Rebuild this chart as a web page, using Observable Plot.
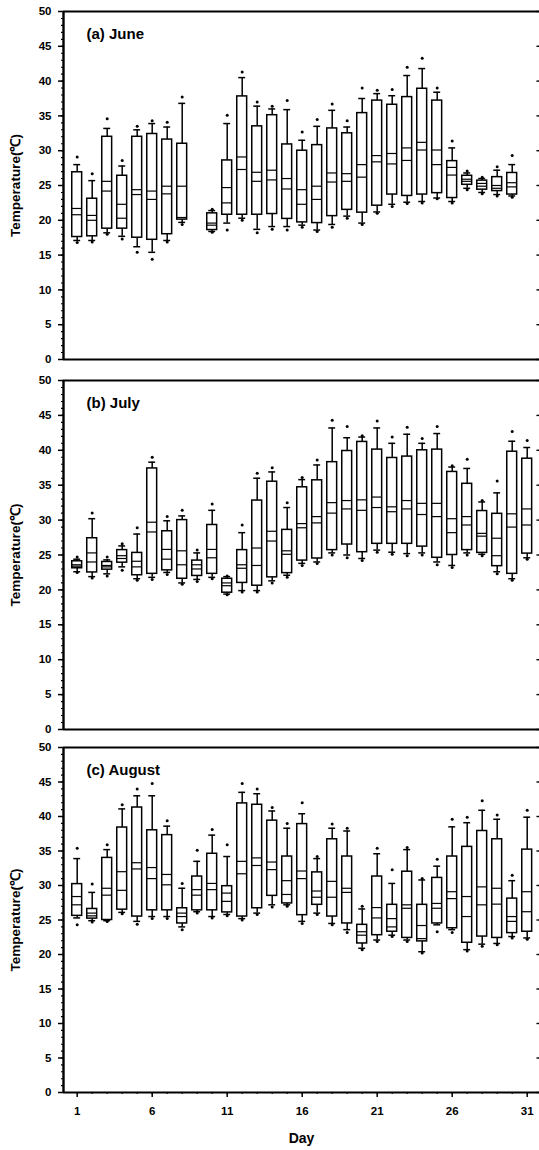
<!DOCTYPE html>
<html>
<head>
<meta charset="utf-8">
<script src="https://cdn.jsdelivr.net/npm/d3@7"></script>
<script src="https://cdn.jsdelivr.net/npm/@observablehq/plot@0.6"></script>
<style>
  html, body { margin: 0; padding: 0; background: #fff; overflow: hidden; }
  #chart svg { display: block; }
  g[aria-label="panel-title"] text { letter-spacing: 1.6px; }
  g[aria-label="y-title"] text { letter-spacing: 1.6px; }
  g[aria-label="x-title"] text { letter-spacing: 1px; }
</style>
</head>
<body>
<div id="chart"></div>
<script>
// Daily air temperature distributions (°C): 5th/95th percentile points,
// 10th/90th whiskers, quartile boxes, median and mean lines.

// ---- June (no record on day 9) ----
const juneDays  = [1, 2, 3, 4, 5, 6, 7, 8, 10, 11, 12, 13, 14, 15, 16, 17, 18, 19, 20, 21, 22, 23, 24, 25, 26, 27, 28, 29, 30];
const juneP5    = [16.8, 16.9, 18.0, 17.3, 15.4, 14.4, 16.9, 19.4, 18.3, 18.6, 20.0, 18.2, 18.7, 18.6, 19.0, 18.4, 19.0, 20.3, 19.4, 21.0, 22.0, 22.4, 22.5, 23.1, 22.5, 24.4, 23.8, 23.5, 23.3];
const juneP10   = [17.1, 17.1, 18.2, 17.7, 16.2, 15.4, 17.1, 19.7, 18.4, 19.6, 20.3, 18.7, 19.1, 19.1, 19.3, 18.6, 19.4, 20.6, 19.6, 21.2, 22.3, 22.6, 22.7, 23.2, 22.7, 24.6, 24.0, 23.7, 23.5];
const juneQ1    = [17.6, 17.7, 18.8, 18.8, 17.5, 17.2, 18.0, 20.1, 18.6, 20.8, 20.8, 20.8, 20.9, 20.2, 19.7, 19.6, 20.6, 21.5, 21.1, 22.1, 23.7, 23.5, 23.7, 23.9, 23.2, 25.1, 24.4, 24.2, 23.7];
const juneMed   = [20.8, 20.0, 24.2, 20.3, 23.7, 23.0, 23.8, 20.4, 19.3, 22.5, 27.3, 25.6, 25.8, 24.5, 22.3, 23.0, 25.5, 25.6, 26.2, 28.4, 28.1, 28.6, 30.1, 28.0, 26.5, 25.6, 24.9, 24.6, 24.8];
const juneMean  = [21.7, 20.7, 25.6, 22.3, 24.4, 24.2, 24.9, 24.9, 19.6, 24.7, 29.1, 26.9, 27.2, 26.0, 24.4, 24.9, 26.8, 26.7, 28.0, 29.3, 29.6, 30.4, 31.2, 30.1, 27.6, 25.9, 25.3, 25.0, 25.4];
const juneQ3    = [26.9, 23.1, 32.0, 26.4, 32.0, 32.4, 31.6, 31.0, 21.0, 28.6, 37.8, 33.5, 35.1, 30.9, 30.0, 30.8, 33.2, 32.5, 35.4, 37.2, 36.6, 37.7, 38.9, 37.2, 28.5, 26.4, 25.7, 26.2, 26.8];
const juneP90   = [28.0, 25.7, 33.2, 27.8, 33.0, 33.9, 33.4, 36.8, 21.4, 33.9, 40.5, 36.4, 36.0, 35.9, 31.5, 33.5, 35.8, 33.4, 37.5, 38.2, 37.9, 40.8, 41.8, 38.4, 30.4, 26.8, 26.0, 27.2, 28.0];
const juneP95   = [29.1, 26.7, 34.6, 28.6, 33.5, 34.3, 34.1, 37.7, 21.6, 35.1, 41.3, 37.0, 36.4, 37.2, 32.7, 34.5, 36.7, 34.3, 39.0, 38.7, 38.8, 42.0, 43.3, 39.0, 31.4, 27.1, 26.2, 27.7, 29.3];

// ---- July ----
const julyDays  = d3.range(1, 32);
const julyP5    = [22.5, 21.7, 22.0, 22.8, 21.4, 21.5, 22.2, 20.8, 21.2, 21.6, 19.3, 19.7, 19.7, 21.0, 21.8, 23.5, 23.8, 25.0, 24.6, 24.2, 25.4, 25.1, 24.9, 25.0, 23.6, 23.2, 25.0, 24.9, 22.3, 21.4, 24.4];
const julyP10   = [22.6, 21.9, 22.3, 23.3, 21.6, 21.8, 22.5, 21.0, 21.5, 21.8, 19.4, 19.9, 19.9, 21.3, 22.1, 23.8, 24.0, 25.3, 25.0, 24.5, 25.7, 25.4, 25.2, 25.3, 24.0, 23.5, 25.3, 25.1, 22.6, 21.6, 24.6];
const julyQ1    = [23.1, 22.5, 22.9, 23.9, 22.1, 22.3, 22.8, 21.6, 22.0, 22.3, 19.6, 21.0, 20.6, 21.8, 22.4, 24.2, 24.5, 25.7, 26.5, 25.4, 26.6, 26.6, 26.6, 26.2, 24.6, 25.0, 25.7, 25.3, 23.4, 22.3, 25.2];
const julyMed   = [23.4, 24.0, 23.3, 24.5, 23.3, 28.3, 24.4, 23.6, 23.0, 24.6, 20.6, 23.1, 23.5, 27.0, 25.1, 28.9, 29.6, 31.0, 31.6, 31.4, 31.8, 31.2, 31.6, 30.8, 30.5, 28.2, 29.3, 27.7, 24.9, 29.0, 29.3];
const julyMean  = [23.6, 25.3, 23.5, 24.9, 24.1, 29.7, 25.8, 25.6, 23.6, 25.8, 21.0, 23.6, 26.0, 28.4, 25.6, 29.5, 30.5, 32.5, 32.8, 32.9, 33.3, 31.9, 32.8, 32.4, 32.4, 30.2, 30.5, 28.1, 27.4, 30.9, 31.6];
const julyQ3    = [24.1, 27.4, 24.0, 25.7, 25.3, 37.4, 28.4, 30.0, 24.2, 29.3, 21.6, 25.7, 32.8, 35.5, 28.6, 34.7, 35.7, 38.3, 39.9, 41.2, 40.1, 38.9, 39.1, 40.0, 40.1, 36.9, 35.2, 31.3, 30.9, 39.8, 38.8];
const julyP90   = [24.4, 30.2, 24.3, 26.3, 28.0, 38.3, 29.9, 30.6, 25.3, 31.4, 21.9, 28.2, 36.0, 36.9, 31.8, 35.8, 37.9, 43.2, 41.8, 41.9, 43.2, 41.0, 42.3, 41.0, 42.4, 37.6, 37.4, 32.6, 33.9, 41.3, 40.4];
const julyP95   = [24.7, 31.0, 24.7, 26.6, 28.9, 39.0, 30.5, 31.4, 25.7, 32.3, 22.0, 29.3, 36.7, 37.5, 32.5, 36.1, 38.6, 44.3, 43.4, 42.1, 44.2, 41.9, 43.3, 41.7, 43.4, 37.8, 38.7, 32.8, 35.6, 42.7, 41.4];

// ---- August ----
const augDays   = d3.range(1, 32);
const augP5     = [24.3, 24.7, 24.8, 25.9, 24.4, 25.2, 25.2, 23.6, 26.0, 25.3, 25.6, 25.0, 25.8, 26.9, 27.0, 24.5, 25.8, 24.3, 23.2, 20.7, 21.9, 22.6, 21.9, 20.2, 23.3, 23.2, 20.5, 21.2, 21.4, 22.4, 22.2];
const augP10    = [25.3, 24.9, 24.9, 26.1, 24.8, 25.5, 25.5, 24.0, 26.2, 25.5, 25.8, 25.2, 26.0, 27.2, 27.2, 24.8, 26.0, 24.5, 23.6, 20.9, 22.1, 22.8, 22.1, 20.4, 24.3, 23.6, 20.7, 21.5, 21.6, 22.6, 22.4];
const augQ1     = [25.6, 25.2, 25.0, 26.5, 25.5, 26.4, 26.4, 24.5, 26.4, 26.4, 26.1, 25.5, 26.7, 28.5, 27.4, 25.7, 27.2, 25.5, 24.5, 21.6, 22.8, 23.3, 22.4, 21.9, 24.5, 23.8, 21.7, 22.6, 22.4, 23.1, 23.3];
const augMed    = [27.2, 25.6, 28.6, 29.3, 32.4, 31.0, 30.1, 25.5, 28.6, 29.4, 27.7, 31.7, 32.9, 32.3, 28.7, 31.0, 28.3, 28.3, 29.0, 22.8, 25.3, 24.0, 26.7, 22.3, 26.7, 28.1, 25.5, 27.2, 27.3, 24.8, 26.2];
const augMean   = [28.4, 26.0, 29.6, 32.0, 33.3, 32.6, 31.6, 26.0, 29.4, 30.3, 28.9, 33.5, 34.0, 33.4, 30.7, 32.1, 29.2, 30.6, 29.6, 23.3, 26.8, 25.2, 27.2, 24.2, 27.4, 29.1, 28.4, 29.8, 29.6, 25.5, 29.1];
const augQ3     = [30.2, 26.6, 34.0, 38.4, 41.3, 38.0, 37.3, 26.7, 31.3, 34.6, 29.9, 41.9, 41.7, 39.4, 34.2, 38.9, 31.9, 36.7, 34.2, 24.3, 31.3, 27.2, 32.0, 27.2, 31.1, 34.2, 35.6, 37.9, 36.7, 28.1, 35.2];
const augP90    = [33.9, 29.0, 35.2, 41.1, 43.0, 43.0, 38.6, 29.6, 33.5, 37.3, 34.2, 43.5, 43.3, 40.8, 38.3, 40.4, 33.9, 38.3, 37.9, 26.6, 34.6, 30.3, 35.2, 30.8, 32.8, 38.5, 39.1, 40.9, 39.6, 30.7, 39.9];
const augP95    = [35.4, 30.2, 35.9, 41.7, 44.0, 44.8, 39.4, 30.3, 35.1, 38.1, 35.9, 44.8, 44.0, 41.3, 39.0, 42.0, 34.2, 38.9, 38.3, 27.0, 35.4, 32.3, 35.5, 31.0, 33.8, 39.6, 39.9, 42.3, 40.2, 31.5, 40.9];

// ---- Axes ----
const yTicks = [0, 5, 10, 15, 20, 25, 30, 35, 40, 45, 50];
const yMinorTicks = d3.range(0, 51, 1);
const dayTicks = [1, 6, 11, 16, 21, 26, 31];
const dayMinorTicks = d3.range(1, 32);
const xDomain = [0.087, 31.82];
const boxHalf = 0.33;
const capHalf = 0.23;
const font = "'Liberation Sans', Arial, Helvetica, sans-serif";

function rows(days, p5, p10, q1, med, mean, q3, p90, p95) {
  return days.map((day, i) => ({
    day, p5: p5[i], p10: p10[i], q1: q1[i], med: med[i],
    mean: mean[i], q3: q3[i], p90: p90[i], p95: p95[i]
  }));
}

function panel({title, data, height, marginTop, marginBottom, showX}) {
  const line = {stroke: "#000", strokeWidth: 1.5};
  const marks = [
    // whiskers and caps
    Plot.ruleX(data, {x: "day", y1: "p10", y2: "q1", ...line}),
    Plot.ruleX(data, {x: "day", y1: "q3", y2: "p90", ...line}),
    Plot.ruleY(data, {y: "p10", x1: d => d.day - capHalf, x2: d => d.day + capHalf, ...line}),
    Plot.ruleY(data, {y: "p90", x1: d => d.day - capHalf, x2: d => d.day + capHalf, ...line}),
    // boxes
    Plot.rect(data, {x1: d => d.day - boxHalf, x2: d => d.day + boxHalf, y1: "q1", y2: "q3",
                     fill: "#fff", ...line}),
    // median and mean lines
    Plot.ruleY(data, {y: "med", x1: d => d.day - boxHalf, x2: d => d.day + boxHalf, stroke: "#000", strokeWidth: 1.2}),
    Plot.ruleY(data, {y: "mean", x1: d => d.day - boxHalf, x2: d => d.day + boxHalf, stroke: "#000", strokeWidth: 1.2}),
    // outlying percentiles
    Plot.dot(data, {x: "day", y: "p5", r: 1.5, fill: "#000", stroke: null}),
    Plot.dot(data, {x: "day", y: "p95", r: 1.5, fill: "#000", stroke: null}),
    // frame
    Plot.ruleY([0], {stroke: "#000", strokeWidth: 1.8}),
    Plot.ruleY([50], {stroke: "#000", strokeWidth: 2.2}),
    Plot.ruleX([xDomain[0]], {stroke: "#000", strokeWidth: 2.4}),
    Plot.ruleY(yTicks, {x1: xDomain[1] - 0.17, x2: xDomain[1], stroke: "#000", strokeWidth: 1.4}),
    // y axis
    Plot.axisY({ticks: yTicks, tickSize: 5, tickPadding: 7, label: null,
                fontSize: 11.5, fontWeight: "bold", fontFamily: font, strokeWidth: 1.5}),
    Plot.axisY({ticks: yMinorTicks, tickSize: 2, tickFormat: () => "", label: null, strokeWidth: 1.1}),
    Plot.text(["Temperature(℃)"], {frameAnchor: "left", dx: -48, rotate: -90, textAnchor: "middle",
                fontSize: 13.5, fontWeight: "bold", fontFamily: font, ariaLabel: "y-title"}),
    // panel title
    Plot.text([title], {frameAnchor: "top-left", dx: 23, dy: 17, textAnchor: "start", lineAnchor: "top",
                fontSize: 15, fontWeight: "bold", fontFamily: font, ariaLabel: "panel-title"})
  ];
  if (showX) {
    marks.push(
      Plot.axisX({ticks: dayTicks, tickSize: 5, tickPadding: 9, label: null, tickFormat: d => d,
                  fontSize: 11.5, fontWeight: "bold", fontFamily: font, strokeWidth: 1.5}),
      Plot.axisX({ticks: dayMinorTicks, tickSize: 2, tickFormat: () => "", label: null, strokeWidth: 1.1}),
      Plot.text(["Day"], {frameAnchor: "bottom", dy: 50, textAnchor: "middle", lineAnchor: "bottom",
                  fontSize: 14, fontWeight: "bold", fontFamily: font, ariaLabel: "x-title"})
    );
  }
  return Plot.plot({
    width: 539,
    height,
    marginLeft: 63,
    marginRight: 0,
    marginTop,
    marginBottom,
    style: {fontFamily: font, background: "#fff", overflow: "visible"},
    x: {domain: xDomain, ...(showX ? {} : {axis: null})},
    y: {domain: [0, 50]},
    marks
  });
}

const chart = document.getElementById("chart");
chart.append(
  panel({title: "(a) June",
         data: rows(juneDays, juneP5, juneP10, juneQ1, juneMed, juneMean, juneQ3, juneP90, juneP95),
         height: 370, marginTop: 11, marginBottom: 11, showX: false}),
  panel({title: "(b) July",
         data: rows(julyDays, julyP5, julyP10, julyQ1, julyMed, julyMean, julyQ3, julyP90, julyP95),
         height: 367, marginTop: 10, marginBottom: 8, showX: false}),
  panel({title: "(c) August",
         data: rows(augDays, augP5, augP10, augQ1, augMed, augMean, augQ3, augP90, augP95),
         height: 413, marginTop: 10, marginBottom: 58, showX: true})
);
</script>
</body>
</html>
